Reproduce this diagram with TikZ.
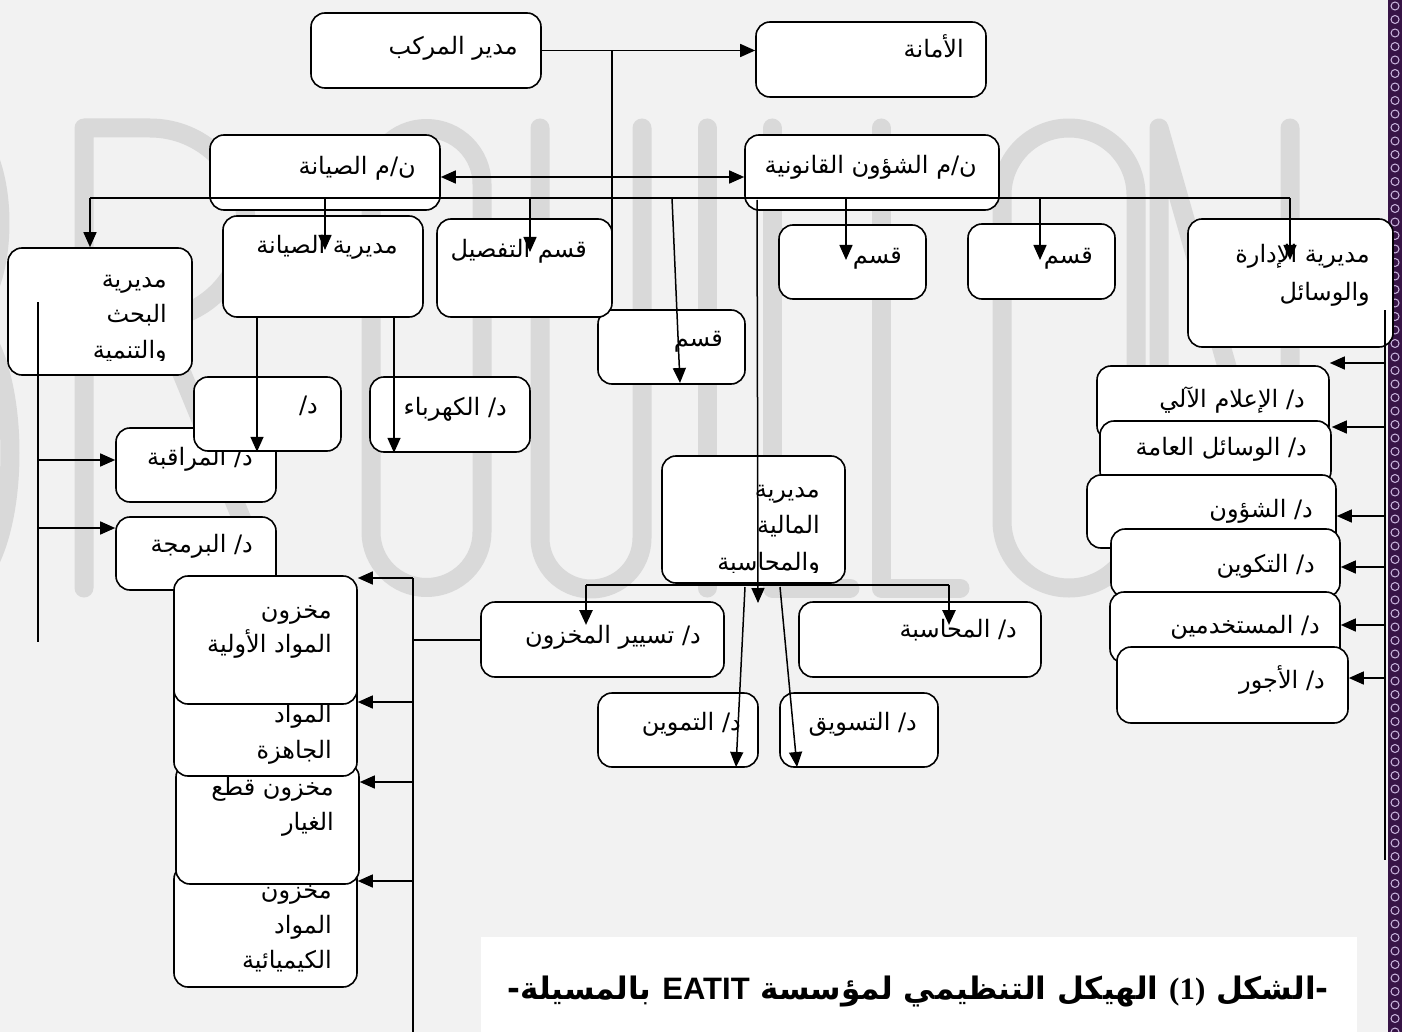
\documentclass[tikz,border=0pt]{standalone}
\usepackage{fontspec}
\usetikzlibrary{arrows.meta}
\TeXXeTstate=1
\newfontfamily\arabicfont[Script=Arabic]{DejaVu Sans}
\newfontfamily\latinbold{Liberation Sans}
\newfontfamily\latinserif{Liberation Serif}
\definecolor{paper}{RGB}{242,242,242}
\definecolor{ghost}{RGB}{217,217,217}
\definecolor{plum}{RGB}{55,20,70}
\definecolor{lilac}{RGB}{205,185,225}
\newcommand\arsl{\kern0pt/\kern0pt{}}
% box from its corners: name, x1, y1, x2, y2
\newcommand\unitbox[5]{\node[unit,minimum width=\dimexpr#4pt-#2pt\relax,minimum height=\dimexpr#5pt-#3pt\relax] (#1) at ({(#2+#4)/2},{(#3+#5)/2}) {};}
% one line of text, right end at x
\newcommand\unittext[4]{\node[txt] (#1) at (#2,#3) {#4};}

\begin{document}
\begin{tikzpicture}[x=1pt,y=-1pt,>={Triangle[length=15pt,width=13pt]}]
        \tikzstyle{unit}=[draw,rounded corners=14pt,fill=white,line width=1.6pt,inner sep=0pt]
        \tikzstyle{txt}=[anchor=east,inner sep=0pt,text height=1.1em,text depth=0em,font=\arabicfont\fontsize{24}{34}\selectfont]
        \tikzstyle{title}=[inner sep=0pt,font=\arabicfont\bfseries\fontsize{31}{38}\selectfont]
        \tikzstyle{link}=[line width=1.5pt]
        \tikzstyle{trunk}=[line width=2.6pt]
        \tikzstyle{wm}=[line width=19pt,line cap=round,line join=round,draw=ghost]

        \useasboundingbox (0,0) rectangle (1402,1032);
        \fill[paper] (0,0) rectangle (1402,1032);
        % watermark
        \draw[wm] (-60,588) -- (-60,128) -- (-40,128) arc[start angle=-90,end angle=90,x radius=40,y radius=95] -- (-60,318) -- (-40,318) arc[start angle=-90,end angle=90,x radius=50,y radius=135] -- cycle;
        \draw[wm] (84,588) -- (84,128) -- (150,128) arc[start angle=-90,end angle=90,radius=96] -- (84,320);
        \draw[wm] (160,320) -- (270,588);
        \draw[wm] (371,184) arc[start angle=180,end angle=360,radius=55.5] -- (482,532) arc[start angle=0,end angle=180,radius=55.5] -- cycle;
        \draw[wm] (540,128) -- (540,538) arc[start angle=180,end angle=0,radius=51] -- (642,128);
        \draw[wm] (707,128) -- (707,588);
        \draw[wm] (772,128) -- (772,588) -- (850,588);
        \draw[wm] (881,128) -- (881,588) -- (960,588);
        \draw[wm] (1002,195) arc[start angle=180,end angle=360,radius=67] -- (1136,521) arc[start angle=0,end angle=180,radius=67] -- cycle;
        \draw[wm] (1159,588) -- (1159,128) -- (1290,588) -- (1290,128);
        % page border
        \fill[plum] (1388,0) rectangle (1402,1032);
        \foreach \k in {0,...,76}
            \draw[lilac,line width=1pt] (1395,{6+\k*13.5}) circle (4);
        % caption
        \fill[white] (481,937) rectangle (1357,1032);
        \node[title] (cap) at (918,992) {\beginR-\kern0pt{}الشكل \beginL{\latinserif(1)}\endL{} الهيكل التنظيمي لمؤسسة \beginL{\latinbold EATIT}\endL{} بالمسيلة\kern0pt{}-\endR};

        % top level
        \unitbox{sec}{756}{22}{986}{97}        \unittext{sect}{964}{52}{\beginR الأمانة\endR}
        \unitbox{mgr}{311}{13}{541}{88}        \unittext{mgrt}{518}{49}{\beginR مدير المركب\endR}
        \unitbox{nm1}{210}{135}{440}{210}      \unittext{nm1t}{416}{169}{\beginR ن\arsl{}م الصيانة\endR}
        \unitbox{nm2}{745}{135}{999}{210}      \unittext{nm2t}{977}{168}{\beginR ن\arsl{}م الشؤون القانونية\endR}

        % second level
        \unitbox{rd}{8}{248}{192}{375}
        \unittext{rdt1}{167}{282}{\beginR مديرية\endR}
        \unittext{rdt2}{167}{317}{\beginR البحث\endR}
        \begin{scope}
            \clip (8,248) rectangle (192,360);
            \unittext{rdt3}{167}{353}{\beginR والتنمية\endR}
        \end{scope}
        \unitbox{mt}{223}{216}{423}{317}       \unittext{mtt}{398}{248}{\beginR مديرية الصيانة\endR}
        \unitbox{q1}{598}{310}{745}{384}       \unittext{q1t}{723}{341}{\beginR قسم\endR}
        \unitbox{qt}{437}{219}{612}{317}       \unittext{qtt}{587}{252}{\beginR قسم التفصيل\endR}
        \unitbox{q2}{779}{225}{926}{299}       \unittext{q2t}{902}{258}{\beginR قسم\endR}
        \unitbox{q3}{968}{224}{1115}{299}      \unittext{q3t}{1093}{258}{\beginR قسم\endR}
        \unitbox{adm}{1188}{219}{1393}{347}
        \unittext{admt1}{1370}{257}{\beginR مديرية الإدارة\endR}
        \unittext{admt2}{1370}{295}{\beginR والوسائل\endR}

        % maintenance and research units
        \unitbox{mon}{116}{428}{276}{502}      \unittext{mont}{253}{460}{\beginR د\arsl{} المراقبة\endR}
        \unitbox{dtr}{194}{377}{341}{451}      \unittext{dtrt}{318}{408}{\beginR د\arsl\endR}
        \unitbox{elec}{370}{377}{530}{452}     \unittext{elect}{507}{410}{\beginR د\arsl{} الكهرباء\endR}
        \unitbox{prg}{116}{517}{276}{590}      \unittext{prgt}{253}{547}{\beginR د\arsl{} البرمجة\endR}

        % stores
        \unitbox{s4}{174}{865}{357}{987}
        \unittext{s4t1}{332}{893}{\beginR مخزون\endR}
        \unittext{s4t2}{332}{928}{\beginR المواد\endR}
        \begin{scope}
            \clip (174,865) rectangle (357,972);
            \unittext{s4t3}{332}{963}{\beginR الكيميائية\endR}
        \end{scope}
        \unitbox{s3}{176}{763}{359}{884}
        \unittext{s3t1}{334}{790}{\beginR مخزون قطع\endR}
        \unittext{s3t2}{334}{825}{\beginR الغيار\endR}
        \unitbox{s2}{174}{650}{357}{776}
        \unittext{s2t1}{332}{717}{\beginR المواد\endR}
        \begin{scope}
            \clip (174,650) rectangle (357,763);
            \unittext{s2t2}{332}{753}{\beginR الجاهزة\endR}
        \end{scope}
        \unitbox{s1}{174}{576}{357}{704}
        \unittext{s1t1}{332}{613}{\beginR مخزون\endR}
        \unittext{s1t2}{332}{647}{\beginR المواد الأولية\endR}

        % finance
        \unitbox{fin}{662}{456}{845}{583}
        \unittext{fint1}{820}{492}{\beginR مديرية\endR}
        \unittext{fint2}{820}{528}{\beginR المالية\endR}
        \begin{scope}
            \clip (662,456) rectangle (845,572);
            \unittext{fint3}{820}{565}{\beginR والمحاسبة\endR}
        \end{scope}
        \unitbox{stk}{481}{602}{724}{677}      \unittext{stkt}{701}{638}{\beginR د\arsl{} تسيير المخزون\endR}
        \unitbox{acc}{799}{602}{1041}{677}     \unittext{acct}{1017}{632}{\beginR د\arsl{} المحاسبة\endR}
        \unitbox{tmw}{598}{693}{758}{767}      \unittext{tmwt}{741}{725}{\beginR د\arsl{} التموين\endR}
        \unitbox{mkt}{780}{693}{938}{767}      \unittext{mktt}{917}{725}{\beginR د\arsl{} التسويق\endR}

        % administration
        \unitbox{r1}{1097}{366}{1329}{440}     \unittext{r1t}{1305}{402}{\beginR د\arsl{} الإعلام الآلي\endR}
        \unitbox{r2}{1100}{421}{1331}{485}     \unittext{r2t}{1307}{450}{\beginR د\arsl{} الوسائل العامة\endR}
        \unitbox{r3}{1087}{475}{1336}{548}     \unittext{r3t}{1313}{512}{\beginR د\arsl{} الشؤون\endR}
        \unitbox{r4}{1111}{529}{1340}{597}     \unittext{r4t}{1315}{567}{\beginR د\arsl{} التكوين\endR}
        \unitbox{r5}{1110}{592}{1340}{663}     \unittext{r5t}{1320}{628}{\beginR د\arsl{} المستخدمين\endR}
        \unitbox{r6}{1117}{647}{1348}{723}     \unittext{r6t}{1325}{683}{\beginR د\arsl{} الأجور\endR}

        % connectors
        \draw[link,->] (mgr.east) -- (mgr.east -| sec.west);
        \coordinate (j1) at (612,51);
        \coordinate (j1e) at (612,273);
        \draw[trunk] (j1) -- (j1e);
        \draw[link,<->] ([yshift=-4.5pt]nm1.east) -- ([yshift=-4.5pt]nm1.east -| nm2.west);

        \coordinate (busL) at (90,198);
        \coordinate (busR) at (1290,198);
        \draw[link] (busL) -- (busR);
        \draw[link,->] (busL) -- (busL |- rd.north);
        \foreach \x/\y [count=\i] in {325/250,530/252,846/260,1040/260,1290/260}{
            \coordinate (d\i) at (\x,198);
            \coordinate (d\i e) at (\x,\y);
            \draw[link,->] (d\i) -- (d\i e);
        }
        \coordinate (sl1) at (672,198);
        \coordinate (sl1e) at (680,383);
        \draw[link,->] (sl1) -- (sl1e);
        \coordinate (v1) at (757,200);
        \coordinate (v1e) at (758,603);
        \draw[link,->] (v1) -- (v1e);

        \coordinate (m1) at (257,317);
        \coordinate (m2) at (394,317);
        \draw[link,->] (m1) -- (m1 |- dtr.south);
        \draw[link,->] (m2) -- (m2 |- elec.south);

        \coordinate (t1) at (38,302);
        \coordinate (t1e) at (38,642);
        \draw[trunk] (t1) -- (t1e);
        \coordinate (t2) at (38,460);
        \coordinate (t3) at (38,528);
        \draw[link,->] (t2) -- (t2 -| mon.west);
        \draw[link,->] (t3) -- (t3 -| prg.west);

        \coordinate (f1) at (586,585);
        \coordinate (f2) at (949,585);
        \draw[trunk] (f1) -- (f2);
        \draw[trunk,->] (f1) -- ([yshift=-40pt]f1);
        \draw[trunk,->] (f2) -- ([yshift=-40pt]f2);
        \coordinate (f3) at (745,587);
        \coordinate (f4) at (780,587);
        \draw[link,->] (f3) -- (736,767);
        \draw[link,->] (f4) -- (797,767);

        \coordinate (k1) at (413,578);
        \coordinate (k1e) at (413,1032);
        \draw[trunk] (k1) -- (k1e);
        \draw[trunk] (413,640) -- (413,640 -| stk.west);
        \foreach \y/\n in {578/s1,702/s2,782/s3,881/s4}
            \draw[link,->] (413,\y) -- (413,\y -| \n.east);

        \coordinate (a1) at (1385,310);
        \coordinate (a1e) at (1385,860);
        \draw[link] (a1) -- (a1e);
        \foreach \y/\n in {363/r1,427/r2,516/r3,567/r4,625/r5,678/r6}
            \draw[link,->] (1385,\y) -- (1385,\y -| \n.east);
\end{tikzpicture}
\end{document}
